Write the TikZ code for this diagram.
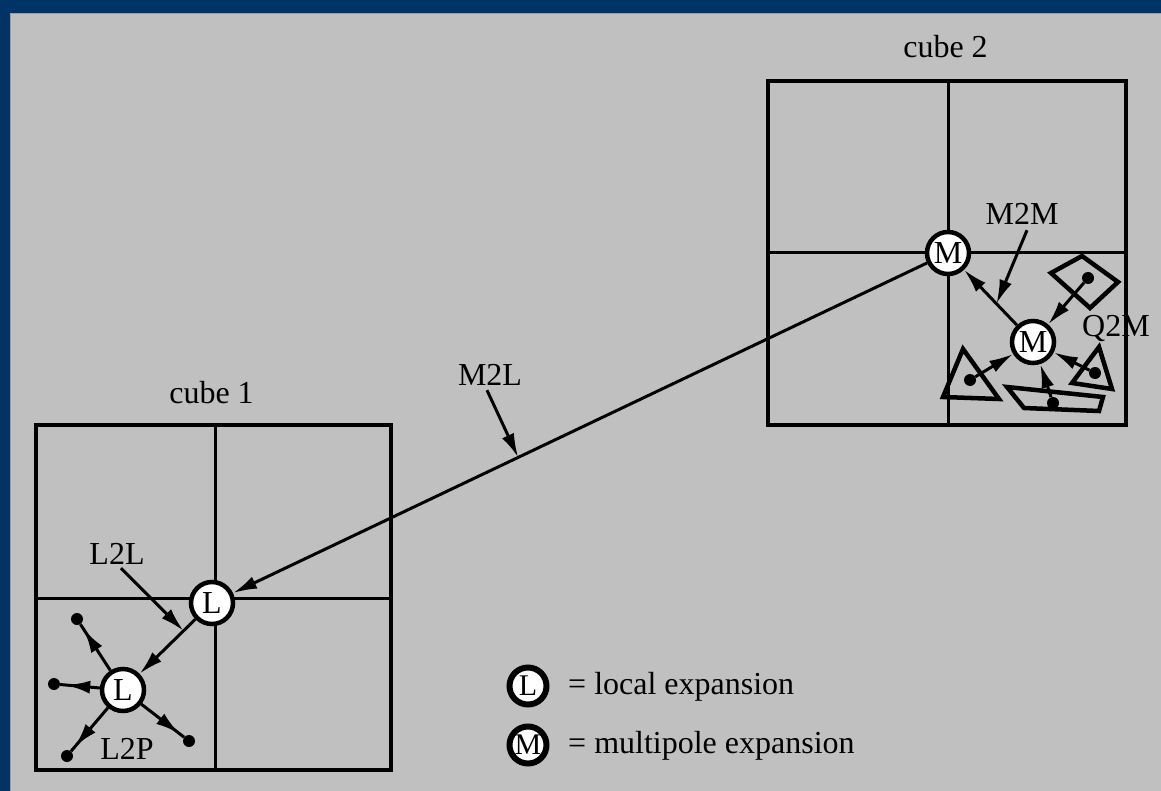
\documentclass[tikz,border=0pt]{standalone}
\usepackage{fontspec}
\setmainfont{Liberation Serif}
\usetikzlibrary{arrows.meta,decorations.markings,calc}
\definecolor{frameblue}{RGB}{0,51,102}
\definecolor{bggray}{RGB}{192,192,192}
\definecolor{edgeline}{RGB}{140,160,185}
\tikzset{
  cubeframe/.style={line width=4.5pt},
  divider/.style={line width=3pt},
  expnode/.style={circle, draw, fill=white, line width=4.5pt, minimum size=42pt, inner sep=0pt, font=\fontsize{32}{32}\selectfont},
  legnode/.style={circle, draw, fill=white, line width=6pt, minimum size=37pt, inner sep=0pt, font=\fontsize{30}{30}\selectfont},
  lbl/.style={font=\fontsize{32}{36}\selectfont, inner sep=0pt},
  tipstyle/.style={-{Latex[length=24pt,width=13pt]}},
  conn/.style={line width=3pt, tipstyle},
  tipnear/.style={line width=3pt, postaction={decorate},
    decoration={markings, mark=at position -6pt with {\arrow{Latex[length=24pt,width=13pt]}}}},
  dotpt/.style={circle, fill=black, minimum size=12pt, inner sep=0pt},
  shapeln/.style={line width=4.5pt, line join=miter},
}
\begin{document}
\begin{tikzpicture}[x=1pt,y=-1pt]
\useasboundingbox (0,0) rectangle (1161,791);
\fill[frameblue] (0,0) rectangle (1161,791);
\fill[bggray] (10,13) rectangle (1161,791);
\draw[edgeline, line width=1pt] (10.5,791) -- (10.5,13.5) -- (1161,13.5);

% cube 2
\draw[divider] (948,81) -- (948,425);
\draw[divider] (768,253) -- (1126,253);
\draw[cubeframe] (768,81) rectangle (1126,425);
\node[lbl, anchor=base] (c2) at (945.5,58) {cube 2};

% cube 1
\draw[divider] (215,425) -- (215,770);
\draw[divider] (36,598) -- (391,598);
\draw[cubeframe] (36,425) rectangle (391,770);
\node[lbl, anchor=base] (c1) at (211.5,403) {cube 1};

% shapes in cube 2
\draw[shapeln] (1082,256) -- (1118,282) -- (1090,308) -- (1051,273) -- cycle;
\draw[shapeln] (963,349) -- (999,399) -- (943,397) -- cycle;
\draw[shapeln] (1099,347) -- (1112,389) -- (1072,383) -- cycle;
\draw[shapeln] (1007,387) -- (1103,397) -- (1099,411) -- (1024,408) -- cycle;

\node[dotpt] (qd) at (1088,278) {};
\node[dotpt] (qt1) at (970,380) {};
\node[dotpt] (qt2) at (1095,373) {};
\node[dotpt] (qp) at (1053,403) {};

% expansion nodes
\node[expnode] (Mbig) at (948,253) {M};
\node[expnode] (Msmall) at (1033,342) {M};
\node[expnode] (Lbig) at (212,603) {L};
\node[expnode] (Lsmall) at (123,690) {L};

% M2L
\draw[conn] (Mbig) -- (Lbig);
\coordinate (m2lp) at ($(Mbig)!0.584!(Lbig)$);
\node[lbl, anchor=base] (m2l) at (490,385) {M2L};
\draw[conn] ([xshift=-3pt,yshift=-5pt]m2l.south) -- (m2lp);

% M2M
\draw[conn] (Msmall) -- (Mbig);
\coordinate (m2mp) at ($(Msmall)!0.43!(Mbig)$);
\node[lbl, anchor=base] (m2m) at (1022,225) {M2M};
\draw[conn] ([xshift=5pt,yshift=-5pt]m2m.south) -- (m2mp);

% Q2M
\draw[conn] (qd) -- (Msmall);
\draw[conn] (qt1) -- (Msmall);
\draw[conn] (qt2) -- (Msmall);
\draw[conn] (qp) -- (Msmall);
\node[lbl, anchor=base west] (q2m) at (1082,336) {Q2M};

% L2L
\draw[conn] (Lbig) -- (Lsmall);
\coordinate (l2lp) at ($(Lbig)!0.32!(Lsmall)$);
\node[lbl, anchor=base] (l2l) at (117,564) {L2L};
\draw[conn] ([xshift=4pt,yshift=-4pt]l2l.south) -- (l2lp);

% L2P
\node[dotpt] (p1) at (77,619) {};
\node[dotpt] (p2) at (54,684) {};
\node[dotpt] (p3) at (67,756) {};
\node[dotpt] (p4) at (189,741) {};
\draw[tipnear] (Lsmall) -- (p1);
\draw[tipnear] (Lsmall) -- (p2);
\draw[tipnear] (Lsmall) -- (p3);
\draw[tipnear] (Lsmall) -- (p4);
\node[lbl, anchor=base] (l2p) at (127,759) {L2P};

% legend
\node[legnode] (legL) at (528,686) {L};
\node[lbl, anchor=base west] (legLt) at (568,694) {= local expansion};
\node[legnode] (legM) at (528,745) {M};
\node[lbl, anchor=base west] (legMt) at (568,753) {= multipole expansion};
\end{tikzpicture}
\end{document}
